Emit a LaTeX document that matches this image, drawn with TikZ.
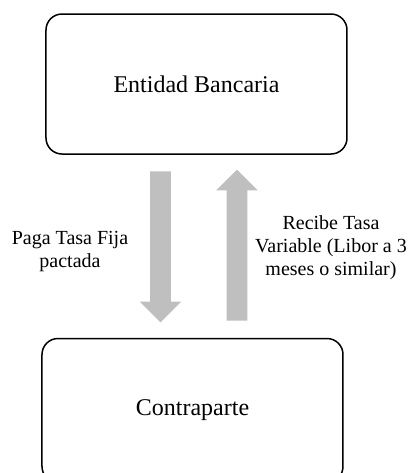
\documentclass[tikz,border=0pt]{standalone}
\usepackage{fontspec}
\setmainfont{Liberation Serif}
\usetikzlibrary{positioning,shapes.arrows}
\definecolor{flowgray}{RGB}{191,191,191}

\begin{document}
\begin{tikzpicture}[x=0.5pt,y=-0.5pt,node distance=91.5pt]
\tikzstyle{party}=[rectangle, rounded corners=8pt, draw=black, line width=0.75pt, minimum width=150.5pt, minimum height=70pt, font=\fontsize{12}{14}\selectfont]
\tikzstyle{flow}=[single arrow, fill=flowgray, inner xsep=0pt, inner ysep=5pt, minimum height=75.5pt, single arrow head extend=5.25pt, single arrow tip angle=90]
\tikzstyle{tag}=[align=center, font=\fontsize{10}{11.5}\selectfont]
\useasboundingbox (0,0) rectangle (412,473);
\node[party] (bank) at (196.5,84) {Entidad Bancaria};
\node[party, minimum height=72pt] (cpty) [below=of bank, xshift=-2pt] {Contraparte};
\node[flow, rotate=-90, anchor=tip] (pays) at (160.5,323) {};
\node[flow, rotate=90, anchor=tip] (gets) at (237,169) {};
\node[tag] (paytag) at (70,252) {Paga Tasa Fija\\pactada};
\node[tag] (gettag) at (331,248) {Recibe Tasa\\Variable (Libor a 3\\meses o similar)};
\end{tikzpicture}
\end{document}
